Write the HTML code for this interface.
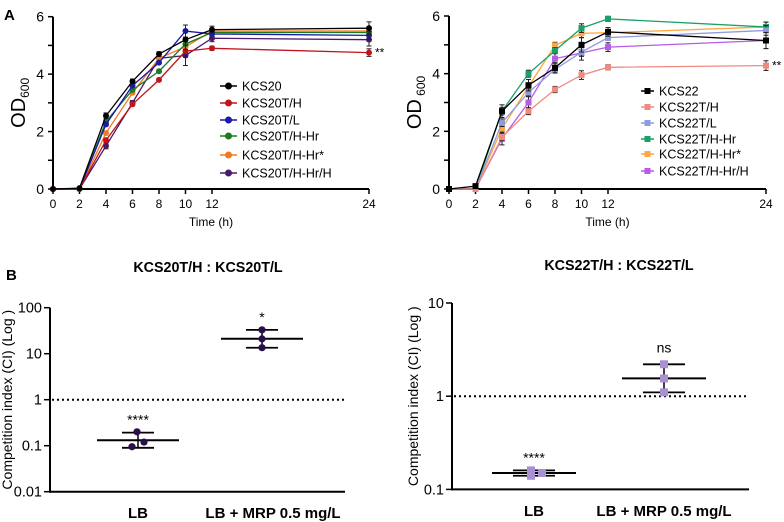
<!DOCTYPE html>
<html><head><meta charset="utf-8">
<style>
html,body{margin:0;padding:0;background:#fff;}
svg{display:block;font-family:"Liberation Sans",Arial,sans-serif;}
</style></head>
<body>
<svg id="fig" width="784" height="522" viewBox="0 0 784 522" xmlns="http://www.w3.org/2000/svg">
<text x="4" y="20" font-size="15" font-weight="bold">A</text>
<text x="6" y="280" font-size="15" font-weight="bold">B</text>
<g id="gA1"></g>
<g id="gA2"></g>
<g id="gB1"></g>
<g id="gB2"></g>
</svg>
<script>
const times = [0, 2, 4, 6, 8, 10, 12, 24];
const xTickLabels = ["0","2","4","6","8","10","12","24"];
const yTickLabels = ["0","2","4","6"];
const seriesNames20 = ["KCS20","KCS20T/H","KCS20T/L","KCS20T/H-Hr","KCS20T/H-Hr*","KCS20T/H-Hr/H"];
const colors20 = ["#000000","#c0141c","#1a1aa8","#1e7a1e","#f07a20","#4a1a6a"];
const s20_0 = [0, 0.03, 2.55, 3.75, 4.7, 5.2, 5.55, 5.6];
const s20_1 = [0, 0, 1.7, 2.95, 3.8, 4.8, 4.9, 4.75];
const s20_2 = [0, 0, 2.25, 3.6, 4.4, 5.5, 5.4, 5.35];
const s20_3 = [0, 0, 2.35, 3.45, 4.1, 5.05, 5.45, 5.45];
const s20_4 = [0, 0, 1.95, 3.35, 4.55, 4.95, 5.5, 5.5];
const s20_5 = [0, 0, 1.5, 3.0, 4.55, 4.65, 5.25, 5.2];
const e20 = [0, 0, 0.1, 0.08, 0.08, 0.35, 0.12, 0.22];
const seriesNames22 = ["KCS22","KCS22T/H","KCS22T/L","KCS22T/H-Hr","KCS22T/H-Hr*","KCS22T/H-Hr/H"];
const colors22 = ["#000000","#f08a80","#8f9ae0","#1aa068","#ffa640","#b65ce6"];
const s22_0 = [0, 0.1, 2.7, 3.6, 4.2, 5.0, 5.45, 5.15];
const s22_1 = [0, 0, 1.8, 2.7, 3.45, 3.95, 4.22, 4.28];
const s22_2 = [0, 0, 2.3, 3.35, 4.15, 4.75, 5.25, 5.5];
const s22_3 = [0, 0, 2.7, 4.0, 4.8, 5.58, 5.9, 5.62];
const s22_4 = [0, 0, 2.1, 3.55, 4.98, 5.4, 5.42, 5.62];
const s22_5 = [0, 0, 1.75, 3.0, 4.52, 4.72, 4.92, 5.15];
const e22 = [0, 0, 0.22, 0.2, 0.18, 0.25, 0.15, 0.28];

const ciGroups = ["LB", "LB + MRP 0.5 mg/L"];
const ci20_LB = [0.2, 0.12, 0.095];
const ci20_MRP = [33, 21, 13.5];
const ci22_LB = [0.16, 0.14, 0.15];
const ci22_MRP = [2.2, 1.55, 1.1];
const sig20 = ["****", "*"];
const sig22 = ["****", "ns"];
const ciTicks20 = [100, 10, 1, 0.1, 0.01];
const ciTickLabels20 = ["100","10","1","0.1","0.01"];
const ciTicks22 = [10, 1, 0.1];
const ciTickLabels22 = ["10","1","0.1"];

const NS = "http://www.w3.org/2000/svg";
function mk(parent, tag, attrs, text){
  const el = document.createElementNS(NS, tag);
  for (const k in attrs) el.setAttribute(k, attrs[k]);
  if (text !== undefined) el.textContent = text;
  parent.appendChild(el);
  return el;
}

function growth(g, cfg, series, names, colors, errs, square){
  const xs = t => t <= 12 ? cfg.x0 + t*(cfg.x12-cfg.x0)/12 : cfg.x12 + (t-12)*(cfg.x24-cfg.x12)/12;
  const ys = v => cfg.y0 - v*(cfg.y0-cfg.y6)/6;
  let el;
  el = mk(g,"line",{x1:cfg.x0,y1:ys(0),x2:cfg.x24,y2:ys(0),stroke:"#000","stroke-width":2});
  
  
  el = mk(g,"line",{x1:cfg.x0,y1:ys(0)+1,x2:cfg.x0,y2:ys(6),stroke:"#000","stroke-width":2});
  
  
  times.forEach((t,i)=>{
    mk(g,"line",{x1:xs(t),y1:ys(0),x2:xs(t),y2:ys(0)+5,stroke:"#000","stroke-width":1.5});
    el = mk(g,"text",{x:xs(t),y:ys(0)+19,"font-size":12,"text-anchor":"middle"},xTickLabels[i]);
    
    
  });
  for(let v=0; v<=6; v++) mk(g,"line",{x1:cfg.x0-5,y1:ys(v),x2:cfg.x0,y2:ys(v),stroke:"#000","stroke-width":1.5});
  yTickLabels.forEach(l=>{
    el = mk(g,"text",{x:cfg.x0-9,y:ys(+l)+5,"font-size":14,"text-anchor":"end"},l);
    
    
  });
  el = mk(g,"text",{x:(cfg.x0+cfg.x24)/2,y:ys(0)+37,"font-size":12,"text-anchor":"middle"},"Time (h)");
  
  
  el = mk(g,"text",{x:0,y:0,"font-size":20,"text-anchor":"middle",transform:`translate(${cfg.x0-28},${(ys(0)+ys(6))/2}) rotate(-90)`});
  
  
  el.innerHTML = cfg.sub ? 'OD<tspan font-size="12" dy="4"> 600</tspan>' : 'OD<tspan font-size="12" dy="4">600</tspan>';
  const order = [5,4,3,2,1,0];
  order.forEach(si=>{
    const vals = series[si], c = colors[si];
    const pts = vals.map((v,i)=>xs(times[i])+","+ys(v)).join(" ");
    el = mk(g,"polyline",{points:pts,fill:"none",stroke:c,"stroke-width":1.3});
    
    
    vals.forEach((v,i)=>{
      const e = errs[i]*(si===0||si===5?1:0.6);
      if(e>0){
        mk(g,"line",{x1:xs(times[i]),y1:ys(v-e),x2:xs(times[i]),y2:ys(v+e),stroke:"#222","stroke-width":1});
        mk(g,"line",{x1:xs(times[i])-2.5,y1:ys(v-e),x2:xs(times[i])+2.5,y2:ys(v-e),stroke:"#222","stroke-width":1});
        mk(g,"line",{x1:xs(times[i])-2.5,y1:ys(v+e),x2:xs(times[i])+2.5,y2:ys(v+e),stroke:"#222","stroke-width":1});
      }
      if(square) el = mk(g,"rect",{x:xs(times[i])-3,y:ys(v)-3,width:6,height:6,fill:c});
      else el = mk(g,"circle",{cx:xs(times[i]),cy:ys(v),r:3,fill:c});
      
      
    });
  });
  el = mk(g,"text",{x:xs(24)+6,y:ys(series[1][7])+4,"font-size":12},"**");
  
  
  names.forEach((n,i)=>{
    const y = cfg.legY[i];
    mk(g,"line",{x1:cfg.legX,y1:y,x2:cfg.legX+cfg.legW,y2:y,stroke:colors[i],"stroke-width":1.5});
    const mx = cfg.legX+cfg.legW/2;
    if(square) mk(g,"rect",{x:mx-3,y:y-3,width:6,height:6,fill:colors[i]});
    else mk(g,"circle",{cx:mx,cy:y,r:3.5,fill:colors[i]});
    el = mk(g,"text",{x:cfg.legX+cfg.legW+5,y:y+4.5,"font-size":12.5},n);
    
    
  });
}

growth(document.getElementById("gA1"),
  {x0:53,x12:212,x24:369,y0:189,y6:16.7,legX:220,legW:17,legY:[86,103,120,136,155,173]},
  [s20_0,s20_1,s20_2,s20_3,s20_4,s20_5], seriesNames20, colors20, e20, false);
growth(document.getElementById("gA2"),
  {x0:449,x12:608,x24:766,y0:189,y6:16,legX:641,legW:13,legY:[91,107,123,139,154,171],sub:true},
  [s22_0,s22_1,s22_2,s22_3,s22_4,s22_5], seriesNames22, colors22, e22, true);

function ci(g, cfg, groups, ticks, tickLabels, sigs, square){
  const ys = v => cfg.yTop + (Math.log10(cfg.vTop)-Math.log10(v))*cfg.dec;
  const yb = ys(cfg.vBot);
  let el;
  el = mk(g,"text",{x:cfg.titleX,y:cfg.titleY,"font-size":14.3,"font-weight":"bold","text-anchor":"middle"},cfg.title);
  
  
  el = mk(g,"line",{x1:cfg.x0,y1:yb,x2:cfg.xEnd,y2:yb,stroke:"#000","stroke-width":2});
  
  
  el = mk(g,"line",{x1:cfg.x0,y1:yb+1,x2:cfg.x0,y2:ys(cfg.vTop),stroke:"#000","stroke-width":2});
  
  
  ticks.forEach((t,i)=>{
    mk(g,"line",{x1:cfg.x0-6,y1:ys(t),x2:cfg.x0,y2:ys(t),stroke:"#000","stroke-width":1.5});
    el = mk(g,"text",{x:cfg.x0-8,y:ys(t)+5,"font-size":14.5,"text-anchor":"end"},tickLabels[i]);
    
    
  });
  el = mk(g,"line",{x1:cfg.x0+2,y1:ys(1),x2:cfg.xEnd,y2:ys(1),stroke:"#000","stroke-width":2,"stroke-dasharray":"2,3"});
  
  
  el = mk(g,"text",{x:0,y:0,"font-size":14,"text-anchor":"middle",transform:`translate(${cfg.yTitleX},${(ys(cfg.vTop)+yb)/2}) rotate(-90)`},"Competition index (CI) (Log )");
  
  
  groups.forEach((vals,gi)=>{
    const cx = cfg.cx[gi];
    const logs = vals.map(v=>Math.log10(v));
    const m = logs.reduce((a,b)=>a+b,0)/logs.length;
    const sd = Math.sqrt(logs.reduce((a,b)=>a+(b-m)*(b-m),0)/(logs.length-1));
    const mean = Math.pow(10,m), lo = Math.pow(10,m-sd), hi = Math.pow(10,m+sd);
    el = mk(g,"text",{x:cfg.x0+(gi===0?cfg.lbX:cfg.mrpX),y:cfg.labY,"font-size":15,"font-weight":"bold","text-anchor":"middle"},ciGroups[gi]);
    
    
    el = mk(g,"line",{x1:cx,y1:ys(lo),x2:cx,y2:ys(hi),stroke:"#000","stroke-width":1.5});
    el = mk(g,"line",{x1:cx-cfg.sdW,y1:ys(lo),x2:cx+cfg.sdW,y2:ys(lo),stroke:"#000","stroke-width":1.8});
    
    
    el = mk(g,"line",{x1:cx-cfg.sdW,y1:ys(hi),x2:cx+cfg.sdW,y2:ys(hi),stroke:"#000","stroke-width":1.8});
    
    
    el = mk(g,"line",{x1:cx-cfg.mW,y1:ys(mean),x2:cx+cfg.mW,y2:ys(mean),stroke:"#000","stroke-width":2});
    
    
    vals.forEach((v,i)=>{
      const px = cx + cfg.jit[gi][i];
      if(square) el = mk(g,"rect",{x:px-4,y:ys(v)-4,width:8,height:8,fill:"#a890d2"});
      else el = mk(g,"circle",{cx:px,cy:ys(v),r:3.6,fill:"#2a0f48"});
      
      
    });
    el = mk(g,"text",{x:cx,y:ys(hi)-(sigs[gi]==="ns"?12:8),"font-size":14,"text-anchor":"middle"},sigs[gi]);
    
    
  });
}

ci(document.getElementById("gB1"),
  {title:"KCS20T/H : KCS20T/L",titleX:208,titleY:272,x0:50,xEnd:345,yTop:307.7,vTop:100,vBot:0.01,dec:46,
   yTitleX:12,cx:[138,262],sdW:16,mW:41,labY:518,lbX:88,mrpX:223,jit:[[-1,6,-6],[0,0,0]]},
  [ci20_LB, ci20_MRP], ciTicks20, ciTickLabels20, sig20, false);
ci(document.getElementById("gB2"),
  {title:"KCS22T/H : KCS22T/L",titleX:619,titleY:270,x0:452,xEnd:749,yTop:303,vTop:10,vBot:0.1,dec:93.2,
   yTitleX:418,cx:[534,664],sdW:21,mW:42,labY:516,lbX:82,mrpX:212,jit:[[-3,-3,8],[0,0,0]]},
  [ci22_LB, ci22_MRP], ciTicks22, ciTickLabels22, sig22, true);
</script>
</body></html>
